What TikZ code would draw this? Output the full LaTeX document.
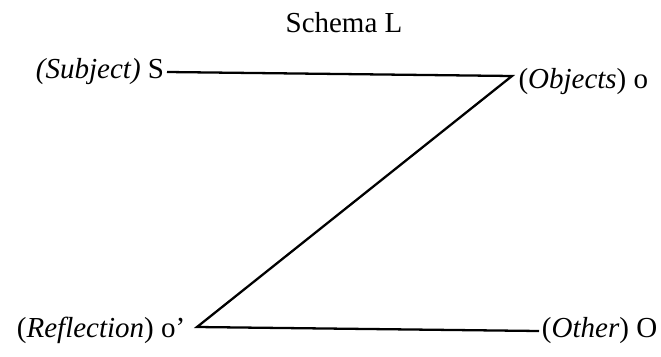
\documentclass[tikz,border=0pt]{standalone}
\usepackage{fontspec}
\setmainfont{Liberation Serif}
\usepackage{tikz}
\usetikzlibrary{positioning}

\tikzset{
	lbl/.style={inner sep=1.5pt,font=\fontsize{16.5}{19}\selectfont},
	leg/.style={line width=1.3pt}
}

\begin{document}
\begin{tikzpicture}
		
		% Frame
		\useasboundingbox (0,0) rectangle (13.22,7.12);
		
		% Title
		\node[lbl] (title) at (6.88,6.66) {Schema L};
		
		% Corners of the Z
		\coordinate (cTop) at (10.24,5.6);
		\coordinate (cBot) at (3.94,0.58);
		
		% The four places
		\node[lbl,anchor=east] (subj) at (3.34,5.68) {\textit{(Subject)} S};
		\node[lbl,anchor=west] (obj) at ([xshift=2pt,yshift=-3pt]cTop) {(\textit{Objects}) o};
		\node[lbl,anchor=east] (refl) at ([xshift=-5pt,yshift=-2pt]cBot) {(\textit{Reflection}) o'};
		\node[lbl,anchor=west] (other) at (10.78,0.5) {(\textit{Other}) O};
		
		% Connectors
		\draw[leg] (subj.east) -- (cTop) -- (cBot) -- (other.west);
		
	\end{tikzpicture}
\end{document}
